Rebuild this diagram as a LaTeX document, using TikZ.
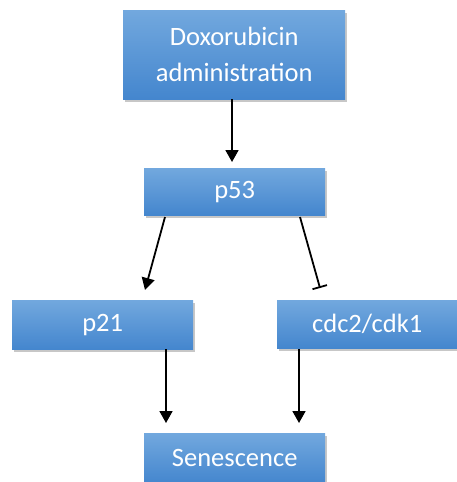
\documentclass[tikz,border=0pt]{standalone}
\usepackage{fontspec}
\setmainfont{Carlito}
\usetikzlibrary{arrows.meta,shadows}
\tikzset{
  box/.style={rectangle, top color=boxtop, bottom color=boxbot, draw=none,
    text=white, font=\fontsize{26.5}{36}\selectfont, align=center,
    inner sep=0pt, anchor=north west,
    drop shadow={shadow xshift=2pt, shadow yshift=-3pt, fill=black, opacity=0.22}},
  act/.style={-{Triangle[length=12pt,width=13pt]}, line width=1.8pt},
  inh/.style={-{Bar[width=15pt]}, line width=1.8pt}
}
\definecolor{boxtop}{RGB}{114,168,222}
\definecolor{boxbot}{RGB}{68,134,206}
\begin{document}
\begin{tikzpicture}[x=1pt,y=-1pt]
  \useasboundingbox (0,0) rectangle (457,482);
  \node[box, minimum width=222pt, minimum height=89pt] (dox) at (123,10) {Doxorubicin\\administration};
  \node[box, minimum width=181pt, minimum height=47pt] (p53) at (144,168) {p53};
  \node[box, minimum width=181pt, minimum height=49pt] (p21) at (12,300) {p21};
  \node[box, minimum width=180pt, minimum height=48pt] (cdc) at (277,300) {cdc2/cdk1};
  \node[box, minimum width=181pt, minimum height=50pt] (sen) at (144,433) {Senescence};
  \coordinate (p53l) at (165,217);
  \coordinate (p53r) at (300,217);
  \coordinate (p21t) at (145,290);
  \coordinate (cdct) at (320,288);
  \coordinate (p21b) at (166,349);
  \coordinate (cdcb) at (299,349);
  \coordinate (senl) at (166,423);
  \coordinate (senr) at (299,423);
  \draw[act] (dox.south -| 232,0) -- (232,162);
  \draw[act] (p53l) -- (p21t);
  \draw[inh] (p53r) -- (cdct);
  \draw[act] (p21b) -- (senl);
  \draw[act] (cdcb) -- (senr);
\end{tikzpicture}
\end{document}
